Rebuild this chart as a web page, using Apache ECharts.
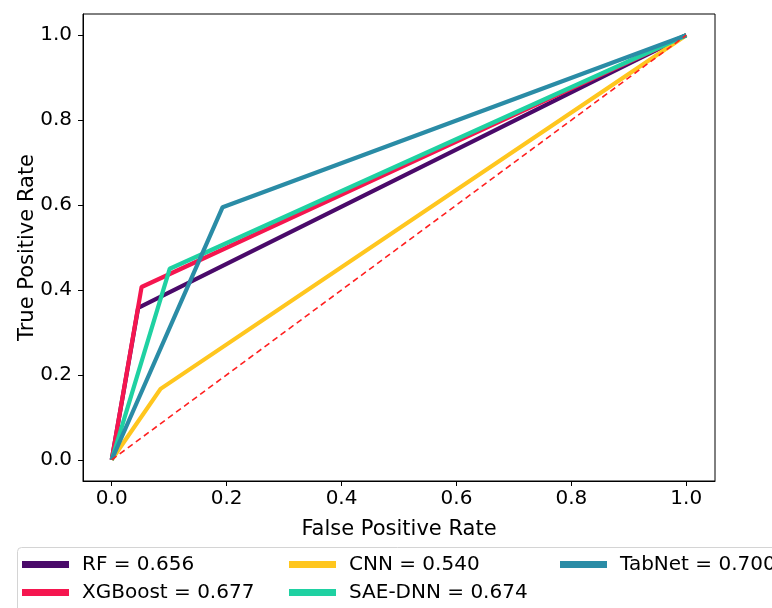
<!DOCTYPE html>
<html><head><meta charset="utf-8">
<script src="https://cdn.jsdelivr.net/npm/echarts@6/dist/echarts.min.js"></script>
<style>html,body{margin:0;padding:0;background:#fff}#c{width:772px;height:608px}</style>
</head><body><div id="c"></div>
<script>
const modelNames = ['RF', 'XGBoost', 'CNN', 'SAE-DNN', 'TabNet'];
const aucValues = [0.656, 0.677, 0.540, 0.674, 0.700];
const fprValues = [
  [0, 0.046, 1],
  [0, 0.052, 1],
  [0, 0.085, 1],
  [0, 0.101, 1],
  [0, 0.193, 1]
];
const tprValues = [
  [0, 0.358, 1],
  [0, 0.407, 1],
  [0, 0.167, 1],
  [0, 0.450, 1],
  [0, 0.595, 1]
];
const diagonal = [[0, 0], [1, 1]];
const tickValues = [0, 0.2, 0.4, 0.6, 0.8, 1.0];
const colors = ['#4a0a6a', '#f5164f', '#ffc61e', '#1fd1a2', '#2a8ca6'];

const font = 'DejaVu Sans';
const labels = modelNames.map((n, i) => n + ' = ' + aucValues[i].toFixed(3));

const series = modelNames.map((n, i) => ({
  name: labels[i],
  type: 'line',
  data: fprValues[i].map((x, j) => [x, tprValues[i][j]]),
  symbol: 'none',
  lineStyle: { color: colors[i], width: 4.2 },
  itemStyle: { color: colors[i] },
  z: 2 + i,
  animation: false
}));
series.push({
  name: 'diag', type: 'line', data: diagonal, symbol: 'none',
  lineStyle: { color: '#ff2020', width: 1.6, type: [6, 4] },
  z: 10, animation: false
});

function axisCommon(name, margin, nameGap) {
  return {
    type: 'value', min: -0.05, max: 1.05,
    name: name, nameLocation: 'middle', nameGap: nameGap, nameMoveOverlap: false,
    nameTextStyle: { fontFamily: font, fontSize: 21, color: '#000' },
    axisLine: { show: true, onZero: false, lineStyle: { color: '#000', width: 1 } },
    axisTick: { show: true, inside: false, length: 5, customValues: tickValues, lineStyle: { color: '#000', width: 1 } },
    axisLabel: { show: true, margin: margin, customValues: tickValues, formatter: v => v.toFixed(1), fontFamily: font, fontSize: 20, color: '#000' },
    splitLine: { show: false }
  };
}

const legendBase = {
  orient: 'vertical', icon: 'rect', itemWidth: 47, itemHeight: 7, itemGap: 8, padding: 0,
  height: 60,
  textStyle: { fontFamily: font, fontSize: 20, lineHeight: 20, color: '#000', padding: [0, 0, 0, 8] },
  selectedMode: false
};

const chart = echarts.init(document.getElementById('c'), null, { renderer: 'canvas' });
chart.setOption({
  backgroundColor: '#fff',
  animation: false,
  grid: { left: 83, right: 57, top: 14, bottom: 127, show: true, borderColor: '#000', borderWidth: 1, backgroundColor: 'transparent' },
  xAxis: axisCommon('False Positive Rate', 8, 38),
  yAxis: axisCommon('True Positive Rate', 11, 45),
  legend: [
    Object.assign({}, legendBase, { left: 22, top: 554.5, data: [labels[0], labels[1]] }),
    Object.assign({}, legendBase, { left: 289, top: 554.5, data: [labels[2], labels[3]] }),
    Object.assign({}, legendBase, { left: 560, top: 554.5, data: [labels[4]] })
  ],
  graphic: [{
    type: 'rect', shape: { x: 17.5, y: 547.5, width: 800, height: 80, r: 4 },
    style: { fill: 'none', stroke: '#d4d4d4', lineWidth: 1 }, z: -1
  }],
  series: series
});
</script></body></html>
